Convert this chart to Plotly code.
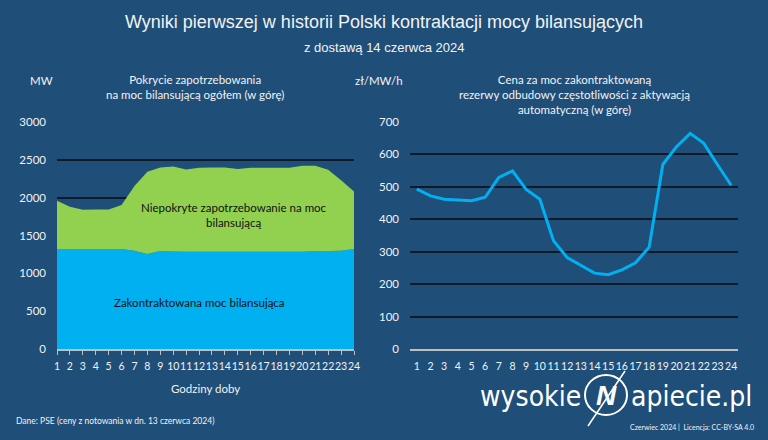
import plotly.graph_objects as go

hours = list(range(1, 25))
contracted_mw = [1320, 1320, 1320, 1320, 1320, 1320, 1300, 1255, 1295, 1290, 1285, 1285,
                 1285, 1285, 1285, 1285, 1285, 1285, 1285, 1285, 1295, 1295, 1300, 1320]
uncovered_mw = [640, 560, 520, 525, 525, 582, 853, 1087, 1105, 1123, 1088, 1110,
                1115, 1115, 1093, 1110, 1110, 1110, 1110, 1137, 1127, 1075, 930, 760]
price_pln = [493, 472, 462, 459, 457, 468, 529, 549, 492, 462, 334, 282,
             259, 234, 229, 244, 266, 314, 569, 624, 665, 634, 568, 505]

BG = "#1F4E79"
GRID = "#0E1A27"
TXT = "#F2F2F2"
DARK = "#111111"
BODY_FONT = "Lato, Open Sans, sans-serif"

fig = go.Figure()
fig.add_trace(go.Scatter(x=hours, y=contracted_mw, stackgroup="a", mode="none",
                         fillcolor="#00B0F0", name="Zakontraktowana moc bilansująca",
                         xaxis="x", yaxis="y"))
fig.add_trace(go.Scatter(x=hours, y=uncovered_mw, stackgroup="a", mode="none",
                         fillcolor="#92D050", name="Niepokryte zapotrzebowanie",
                         xaxis="x", yaxis="y"))
fig.add_trace(go.Scatter(x=hours, y=price_pln, mode="lines",
                         line=dict(color="#00B0F0", width=3), name="Cena",
                         xaxis="x2", yaxis="y2"))

ydom = [1 - 349 / 440, 1 - 122 / 440]
tickfont = dict(family=BODY_FONT, size=11.5, color=TXT)
xtickfont = dict(family=BODY_FONT, size=10.5, color=TXT)

fig.update_layout(
    width=768, height=440,
    paper_bgcolor=BG, plot_bgcolor=BG,
    margin=dict(l=0, r=0, t=0, b=0),
    showlegend=False,
    xaxis=dict(domain=[57 / 768, 354 / 768], range=[1, 24], tickvals=hours, tickangle=0,
               showgrid=False, zeroline=False, showline=True, linecolor="#BFBFBF", linewidth=1.5,
               ticks="outside", ticklen=4, tickcolor="#BFBFBF", tickfont=xtickfont,
               ticklabelstandoff=3, automargin=False, fixedrange=True),
    yaxis=dict(domain=ydom, range=[0, 3000], tickvals=[0, 500, 1000, 1500, 2000, 2500, 3000],
               showgrid=True, gridcolor=GRID, gridwidth=1.5, zeroline=False, showline=False,
               tickfont=tickfont, ticklabelstandoff=10, automargin=False),
    xaxis2=dict(domain=[410 / 768, 738 / 768], range=[0.5, 24.5], tickvals=hours, tickangle=0,
                showgrid=False, zeroline=False, showline=True, linecolor="#BFBFBF", linewidth=1.5,
                ticks="", tickfont=xtickfont, ticklabelstandoff=7, anchor="y2", automargin=False),
    yaxis2=dict(domain=ydom, range=[0, 700], tickvals=[0, 100, 200, 300, 400, 500, 600, 700],
                showgrid=True, gridcolor=GRID, gridwidth=1.5, zeroline=False, showline=False,
                tickfont=tickfont, ticklabelstandoff=10, anchor="x2", automargin=False),
)

def txt(x, y, s, size=11.5, color=TXT, family=BODY_FONT, xanchor="center", **kw):
    fig.add_annotation(x=x / 768, y=1 - y / 440, xref="paper", yref="paper", text=s,
                       showarrow=False, xanchor=xanchor, yanchor="middle",
                       font=dict(size=size, color=color, family=family), **kw)

txt(384, 22, "Wyniki pierwszej w historii Polski kontraktacji mocy bilansujących", size=18,
    family="Liberation Sans, Arial, sans-serif")
txt(384, 47, "z dostawą 14 czerwca 2024", size=13, family="Liberation Sans, Arial, sans-serif")

txt(41, 80, "MW")
txt(195, 87, "Pokrycie zapotrzebowania<br>na moc bilansującą ogółem (w górę)")
txt(379, 80, "zł/MW/h")
txt(574, 94.5, "Cena za moc zakontraktowaną<br>rezerwy odbudowy częstotliwości z aktywacją<br>automatyczną (w górę)")

txt(234, 214.5, "Niepokryte zapotrzebowanie na moc<br>bilansującą", color=DARK)
txt(199, 302, "Zakontraktowana moc bilansująca", color=DARK)

txt(205, 388, "Godziny doby")
txt(14, 421, "Dane: PSE (ceny z notowania w dn. 13 czerwca 2024)", size=8.5, xanchor="left")
txt(756, 427, "Czerwiec 2024 |  Licencja: CC-BY-SA 4.0", size=7, xanchor="right")

# logo
LOGO_FONT = "DejaVu Sans Condensed, Roboto, sans-serif"
txt(583, 396, "wysokie", size=28, color="#FFFFFF", family=LOGO_FONT, xanchor="right")
txt(629, 396, "apiecie.pl", size=28, color="#FFFFFF", family=LOGO_FONT, xanchor="left")
txt(606, 395, "<b><i>N</i></b>", size=28, color="#FFFFFF", family="Liberation Sans, Arial")
fig.add_shape(type="circle", xref="paper", yref="paper",
              x0=585 / 768, x1=627 / 768, y0=1 - 415 / 440, y1=1 - 375 / 440,
              line=dict(color="#FFFFFF", width=2))
fig.add_shape(type="line", xref="paper", yref="paper",
              x0=625 / 768, y0=1 - 371 / 440, x1=588 / 768, y1=1 - 426 / 440,
              line=dict(color="#FFFFFF", width=1.5))

fig.write_html("out.html", config={"displayModeBar": False},
               post_script="document.body.style.margin='0';document.body.style.overflow='hidden';")
